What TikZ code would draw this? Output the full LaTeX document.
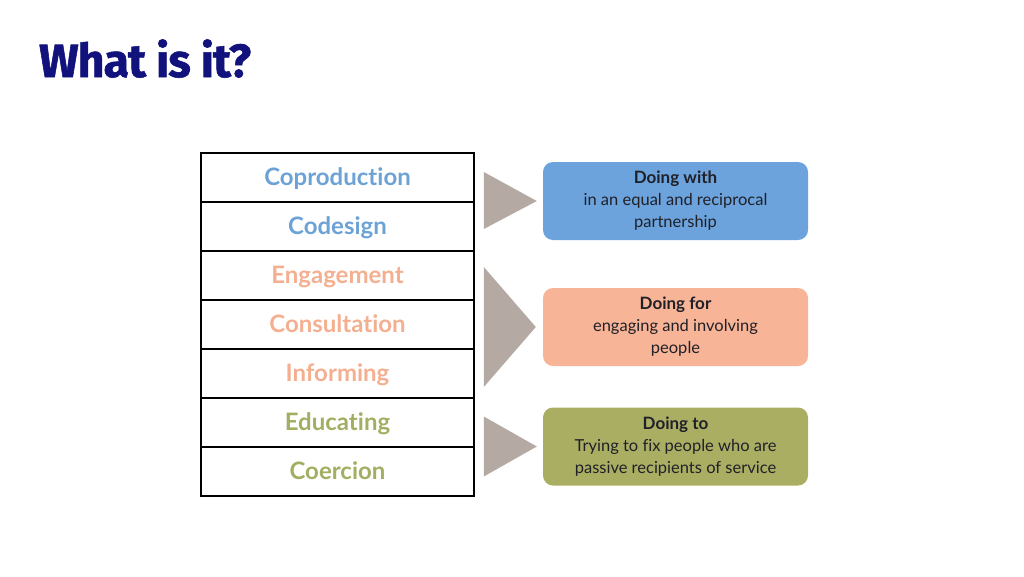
\documentclass[tikz,border=0pt]{standalone}
\usepackage{fontspec}
\setmainfont{Lato}[Ligatures=NoCommon]
\newfontfamily\titlefont{Fira Sans}[BoldFeatures={FakeBold=1.2, LetterSpace=-2}]
\usetikzlibrary{positioning}

\definecolor{titleblue}{HTML}{12127C}
\definecolor{coblue}{HTML}{6CA2D6}
\definecolor{cosalmon}{HTML}{F4AF90}
\definecolor{coolive}{HTML}{A4AE62}
\definecolor{boxblue}{HTML}{6CA3DC}
\definecolor{boxsalmon}{HTML}{F8B496}
\definecolor{boxolive}{HTML}{A9AE62}
\definecolor{wedgegray}{HTML}{B4A9A3}
\definecolor{textdark}{HTML}{202028}

\begin{document}
\begin{tikzpicture}[x=1pt, y=-1pt,
  rung/.style={rectangle, draw, line width=2.5pt, minimum width=273pt, minimum height=49pt, inner sep=0pt, text height=19pt, text depth=3pt, font=\fontsize{24}{26}\selectfont\bfseries},
  tag/.style={rectangle, rounded corners=10pt, minimum width=265pt, minimum height=78pt, align=center, text=textdark, font=\fontsize{16.5}{22}\selectfont},
  wedge/.style={fill=wedgegray}
  ]
  \useasboundingbox (0,0) rectangle (1024,576);
  \node[anchor=base west, inner sep=0pt, text=titleblue, font=\titlefont\fontsize{46.5}{48}\selectfont\bfseries] (title) at (39,77) {What is it?};

  % ladder of rungs
  \foreach \name/\label/\col [count=\i] in {coprod/Coproduction/coblue, codes/Codesign/coblue, engage/Engagement/cosalmon, consult/Consultation/cosalmon, inform/Informing/cosalmon, educate/Educating/coolive, coerce/Coercion/coolive}
    \node[rung, text=\col] (\name) at (337.5, {177.5+(\i-1)*49}) {\label};

  % three groups
  \node[tag, fill=boxblue] (with) at (675.5,201) {{\fontsize{17}{22}\selectfont\bfseries Doing with}\\in an equal and reciprocal\\partnership};
  \node[tag, fill=boxsalmon] (for) at (675.5,327) {{\fontsize{17}{22}\selectfont\bfseries Doing for}\\engaging and involving\\people};
  \node[tag, fill=boxolive] (to) at (675.5,446.5) {{\fontsize{17}{22}\selectfont\bfseries Doing to}\\Trying to fix people who are\\passive recipients of service};

  \fill[wedge] ([xshift=-6pt]with.west) -- ++(-53,-29) -- ++(0,57) -- cycle;
  \fill[wedge] ([xshift=-7pt]for.west) -- ++(-52,-60) -- ++(0,120) -- cycle;
  \fill[wedge] ([xshift=-6pt]to.west) -- ++(-53,-30) -- ++(0,60) -- cycle;
\end{tikzpicture}
\end{document}
